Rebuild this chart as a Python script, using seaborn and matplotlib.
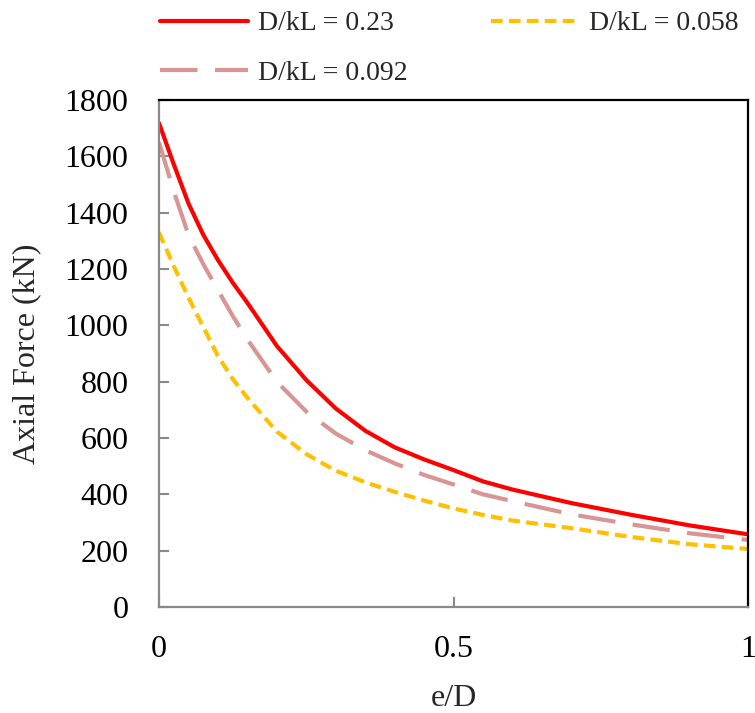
import matplotlib
matplotlib.use("Agg")
import matplotlib.pyplot as plt
import numpy as np
import pandas as pd
import seaborn as sns

# Eccentricity ratio and axial capacity for three slenderness values
e_over_d = [0.0, 0.025, 0.05, 0.075, 0.1, 0.125, 0.15, 0.2, 0.25, 0.3, 0.35,
            0.4, 0.45, 0.5, 0.55, 0.6, 0.7, 0.8, 0.9, 1.0]
force_023 = [1718, 1572, 1433, 1322, 1232, 1152, 1080, 927, 806, 705, 626,
             567, 524, 486, 446, 417, 369, 328, 290, 258]
force_0092 = [1650, 1476, 1321, 1218, 1125, 1034, 950, 800, 694, 616, 557,
              510, 469, 435, 400, 376, 329, 294, 262, 238]
force_0058 = [1330, 1210, 1099, 995, 891, 810, 743, 623, 543, 484, 443,
              409, 378, 350, 327, 307, 280, 249, 223, 206]

labels = ["D/kL = 0.23", "D/kL = 0.092", "D/kL = 0.058"]
series = [force_023, force_0092, force_0058]

df = pd.concat(
    [pd.DataFrame({"e/D": e_over_d, "force": vals, "case": lab})
     for lab, vals in zip(labels, series)],
    ignore_index=True,
)

sns.set_theme(style="white")
plt.rcParams["font.family"] = ["Liberation Serif", "DejaVu Serif"]

fig = plt.figure(figsize=(7.55, 7.13), dpi=100)
ax = fig.add_axes([159 / 755, 1 - 607 / 713, 589 / 755, 507 / 713])

palette = {"D/kL = 0.23": "#FF0000", "D/kL = 0.092": "#D99594", "D/kL = 0.058": "#FFC000"}
dashes = {"D/kL = 0.23": "", "D/kL = 0.092": (9.0, 4.2), "D/kL = 0.058": (2.8, 1.5)}

sns.lineplot(data=df, x="e/D", y="force", hue="case", style="case",
             hue_order=labels, style_order=labels, palette=palette,
             dashes=dashes, linewidth=3.0, ax=ax, legend=False, sort=False)
for line in ax.get_lines():
    line.set_solid_joinstyle("round")
    line.set_dash_joinstyle("round")

ax.set_xlim(0, 1)
ax.set_ylim(0, 1800)
ax.set_xticks([0, 0.5, 1])
ax.set_xticklabels(["0", "0.5", "1"])
ax.set_yticks(np.arange(0, 1801, 200))

grey = "#898989"
for side in ["left", "bottom"]:
    ax.spines[side].set_color(grey)
    ax.spines[side].set_linewidth(1.6)
for side in ["top", "right"]:
    ax.spines[side].set_color("black")
    ax.spines[side].set_linewidth(1.6)

ax.tick_params(axis="both", direction="in", length=7, width=1.5, color=grey,
               labelsize=23, labelcolor="black")
ax.tick_params(axis="y", pad=22)
ax.tick_params(axis="x", pad=20)
ax.tick_params(left=True, bottom=True)

ax.set_xlabel("e/D", fontsize=23)
ax.set_ylabel("Axial Force (kN)", fontsize=23)
ax.xaxis.set_label_coords(0.5, -0.152)
ax.yaxis.set_label_coords(-0.2, 0.5)

handles = ax.get_lines()[:3]
leg = ax.legend(handles, labels, ncol=2, frameon=False, fontsize=20,
                loc="upper left", bbox_to_anchor=(160 / 755, 1 - 11 / 713),
                bbox_transform=fig.transFigure, borderpad=0, borderaxespad=0,
                handlelength=3.17, handletextpad=0.36, columnspacing=3.0,
                labelspacing=0.85)

fig.savefig("out.png", dpi=100)
